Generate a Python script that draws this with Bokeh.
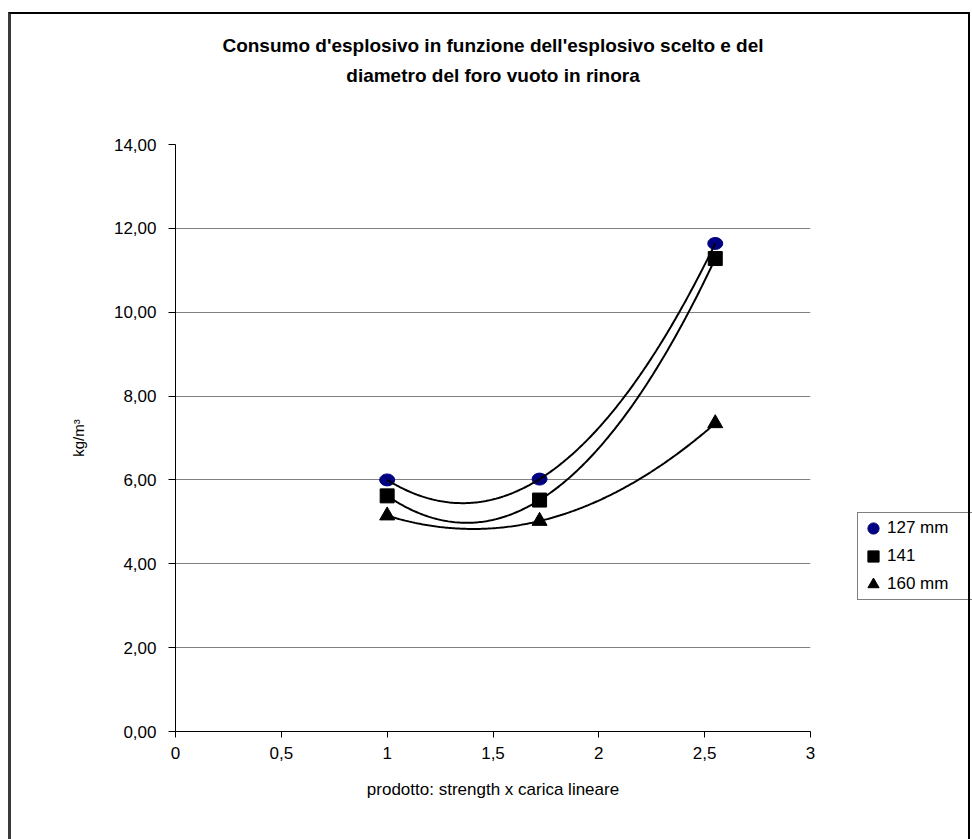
import numpy as np
from bokeh.plotting import figure
from bokeh.models import (Range1d, FixedTicker, CustomJSTickFormatter, Legend,
                          LegendItem, Title, InlineStyleSheet)
from bokeh.embed import file_html
from bokeh.resources import INLINE

# ---- data ----
x_vals = [1.0, 1.72, 2.55]
y_127 = [6.00, 6.02, 11.64]
y_141 = [5.62, 5.52, 11.28]
y_160 = [5.15, 5.02, 7.35]
series_names = ["127 mm", "141", "160 mm"]
x_ticks = [0, 0.5, 1, 1.5, 2, 2.5, 3]
y_ticks = [0, 2, 4, 6, 8, 10, 12, 14]
grid_ticks = [2, 4, 6, 8, 10, 12]
title_lines = ["Consumo d'esplosivo in funzione dell'esplosivo scelto e del",
               "diametro del foro vuoto in rinora"]
x_label = "prodotto: strength x carica lineare"
y_label = "kg/m\u00b3"

FONT = "Liberation Sans"
W, H = 972, 839
FL, FR, FT, FB = 175, 810, 144, 731  # frame edges on the page

p = figure(frame_width=FR - FL, frame_height=FB - FT,
           output_backend="svg", toolbar_location=None,
           x_range=Range1d(0, 3), y_range=Range1d(0, 14),
           min_border_left=FL, min_border_right=W - FR,
           min_border_top=FT, min_border_bottom=H - FB)
p.title.visible = False
p.outline_line_color = None
p.background_fill_color = "white"
p.border_fill_color = "white"

# chart-area border drawn as a CSS overlay on the plot element
p.stylesheets = [InlineStyleSheet(css=(
    ":host{position:relative;}"
    ":host::after{content:'';position:absolute;left:8px;top:12px;width:957px;"
    "height:900px;border-top:2px solid #000;border-right:2px solid #000;"
    "border-left:3px solid #3a3a3a;pointer-events:none;z-index:10;}"))]

# grid
p.xgrid.visible = False
p.ygrid.ticker = FixedTicker(ticks=grid_ticks)
p.ygrid.grid_line_color = "#808080"
p.ygrid.grid_line_width = 1

# axes
for ax in (p.xaxis[0], p.yaxis[0]):
    ax.axis_line_color = "black"
    ax.major_tick_line_color = "black"
    ax.minor_tick_line_color = None
    ax.major_tick_in = 0
    ax.major_label_text_font = FONT
    ax.major_label_text_font_size = "17px"
    ax.major_label_text_color = "black"
    ax.axis_label_text_font = FONT
    ax.axis_label_text_font_style = "normal"
    ax.axis_label_text_color = "black"

p.xaxis.ticker = FixedTicker(ticks=x_ticks)
p.xaxis.formatter = CustomJSTickFormatter(code="return String(tick).replace('.', ',');")
p.xaxis.major_tick_out = 6
p.xaxis.major_label_standoff = 9
p.xaxis.axis_label = x_label
p.xaxis.axis_label_text_font_size = "17px"
p.xaxis.axis_label_standoff = 18

p.yaxis.ticker = FixedTicker(ticks=y_ticks)
p.yaxis.formatter = CustomJSTickFormatter(code="return tick.toFixed(2).replace('.', ',');")
p.yaxis.major_tick_out = 7
p.yaxis.major_label_standoff = 12
p.yaxis.axis_label = y_label
p.yaxis.axis_label_text_font_size = "15px"
p.yaxis.axis_label_standoff = 24

# markers
r127 = p.ellipse(x=x_vals, y=y_127, width=15, height=12, width_units="screen",
                 height_units="screen", fill_color="#000080", line_color="#000080")
r127_leg = p.scatter(x=x_vals, y=y_127, marker="circle", size=11,
                     fill_color="#000080", line_color="#000080", visible=False)
r141 = p.scatter(x=x_vals, y=y_141, marker="square", size=14,
                 fill_color="black", line_color="black")
r160 = p.scatter(x=x_vals, y=y_160, marker="triangle", size=15,
                 fill_color="black", line_color="black")

# second-order polynomial trend lines through each series
for ys in (y_127, y_141, y_160):
    coef = np.polyfit(x_vals, ys, 2)
    xs = np.linspace(min(x_vals), max(x_vals), 200)
    p.line(xs, np.polyval(coef, xs), line_color="black", line_width=2)

# legend (in the right-hand panel)
legend = Legend(items=[LegendItem(label=series_names[0], renderers=[r127_leg]),
                       LegendItem(label=series_names[1], renderers=[r141]),
                       LegendItem(label=series_names[2], renderers=[r160])],
                location=(857 - FR, FB - 600))
legend.border_line_color = "black"
legend.border_line_width = 1
legend.background_fill_color = "white"
legend.background_fill_alpha = 1
legend.inactive_fill_alpha = 0
legend.padding = 1
legend.spacing = 0
legend.margin = 0
legend.glyph_width = 28
legend.glyph_height = 28
legend.label_standoff = 0
legend.label_width = 84
legend.label_text_font = FONT
legend.label_text_font_size = "17px"
legend.label_text_color = "black"
p.add_layout(legend, "right")

# title: spacer next to the frame, then the two lines
p.add_layout(Title(text=" ", text_font=FONT, text_font_size="18px",
                   standoff=37), "above")
p.add_layout(Title(text=title_lines[1], align="center", text_font=FONT,
                   text_font_style="bold", text_font_size="19px",
                   text_color="black", standoff=0), "above")
p.add_layout(Title(text=title_lines[0], align="center", text_font=FONT,
                   text_font_style="bold", text_font_size="19px",
                   text_color="black", standoff=14), "above")

open("out.html", "w").write(file_html(p, INLINE))
